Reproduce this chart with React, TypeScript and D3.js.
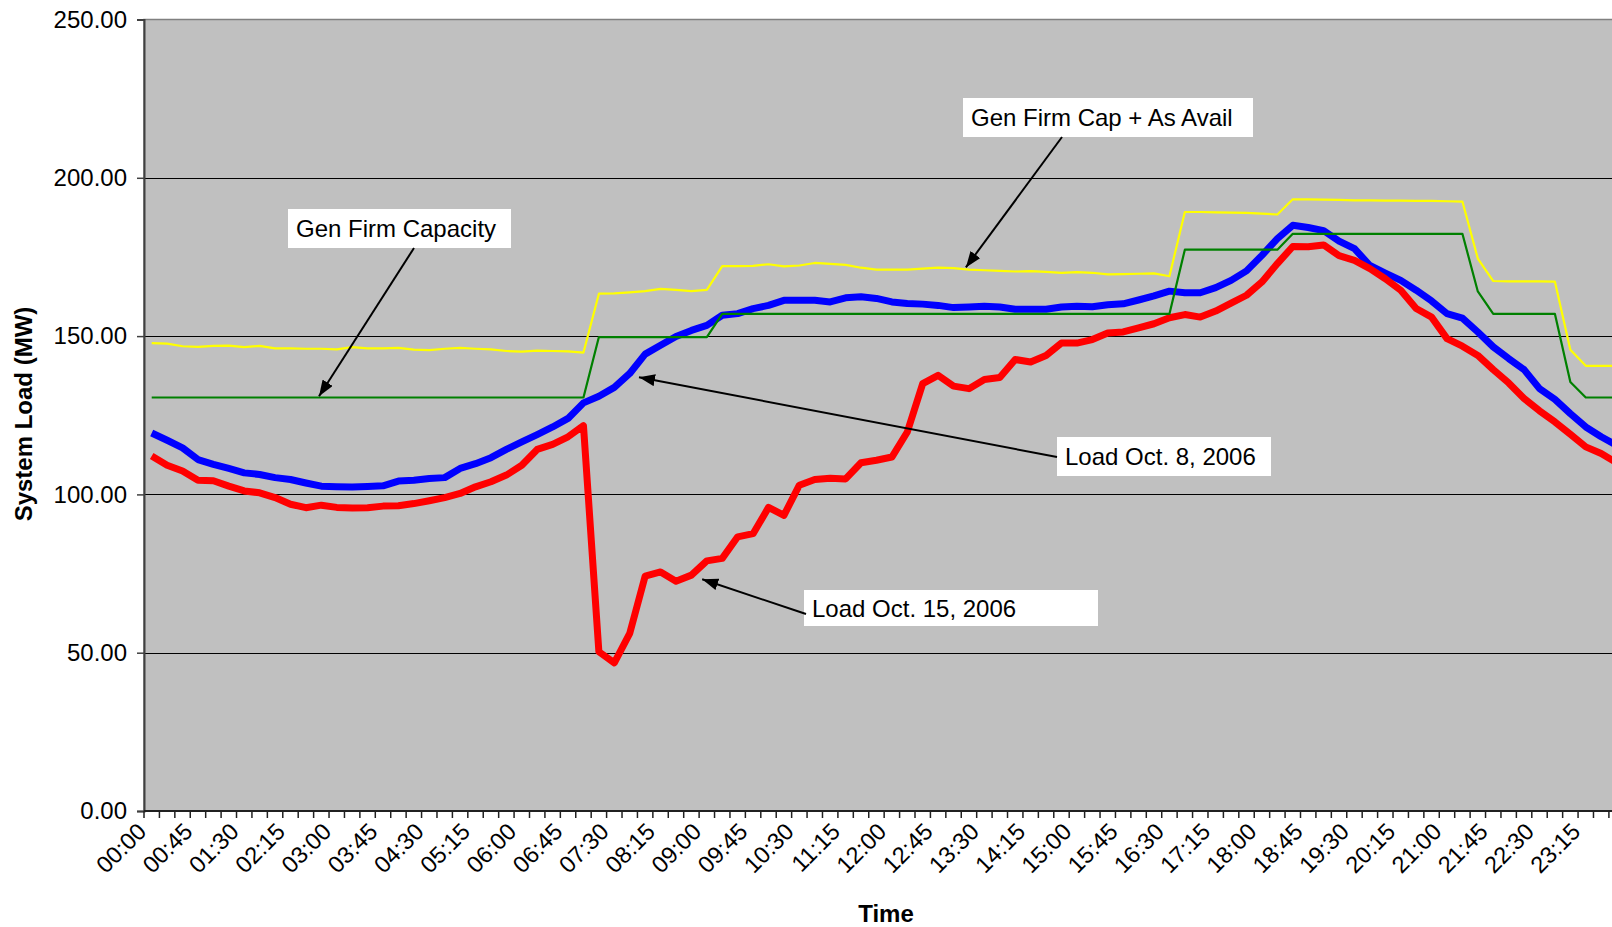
import React, { useRef, useEffect } from "react";
import * as d3 from "d3";

// 15-minute intervals of the day
const times = [
  "00:00", "00:15", "00:30", "00:45", "01:00", "01:15", "01:30", "01:45",
  "02:00", "02:15", "02:30", "02:45", "03:00", "03:15", "03:30", "03:45",
  "04:00", "04:15", "04:30", "04:45", "05:00", "05:15", "05:30", "05:45",
  "06:00", "06:15", "06:30", "06:45", "07:00", "07:15", "07:30", "07:45",
  "08:00", "08:15", "08:30", "08:45", "09:00", "09:15", "09:30", "09:45",
  "10:00", "10:15", "10:30", "10:45", "11:00", "11:15", "11:30", "11:45",
  "12:00", "12:15", "12:30", "12:45", "13:00", "13:15", "13:30", "13:45",
  "14:00", "14:15", "14:30", "14:45", "15:00", "15:15", "15:30", "15:45",
  "16:00", "16:15", "16:30", "16:45", "17:00", "17:15", "17:30", "17:45",
  "18:00", "18:15", "18:30", "18:45", "19:00", "19:15", "19:30", "19:45",
  "20:00", "20:15", "20:30", "20:45", "21:00", "21:15", "21:30", "21:45",
  "22:00", "22:15", "22:30", "22:45", "23:00", "23:15", "23:30", "23:45",
];

const tickLabels = [
  "00:00", "00:45", "01:30", "02:15", "03:00", "03:45", "04:30", "05:15",
  "06:00", "06:45", "07:30", "08:15", "09:00", "09:45", "10:30", "11:15",
  "12:00", "12:45", "13:30", "14:15", "15:00", "15:45", "16:30", "17:15",
  "18:00", "18:45", "19:30", "20:15", "21:00", "21:45", "22:30", "23:15",
];

const yTicks = [0, 50, 100, 150, 200, 250];

const loadOct8 = [
  119.4, 117.1, 114.7, 111.0, 109.5, 108.2, 106.8, 106.3, 105.3, 104.7, 103.6, 102.6,
  102.4, 102.3, 102.5, 102.7, 104.2, 104.5, 105.0, 105.3, 108.2, 109.7, 111.6, 114.2,
  116.6, 118.9, 121.3, 124.0, 128.9, 131.0, 133.8, 138.2, 144.3, 147.1, 149.9, 151.8,
  153.4, 156.6, 157.1, 158.7, 159.7, 161.3, 161.3, 161.3, 160.8, 162.1, 162.4, 161.9,
  160.8, 160.3, 160.1, 159.7, 159.0, 159.2, 159.4, 159.2, 158.5, 158.5, 158.5, 159.2,
  159.4, 159.3, 159.9, 160.2, 161.4, 162.7, 164.2, 163.7, 163.7, 165.3, 167.6, 170.6,
  175.5, 180.8, 185.0, 184.3, 183.3, 180.0, 177.6, 172.3, 169.9, 167.6, 164.5, 161.1,
  157.1, 155.7, 151.3, 146.6, 142.9, 139.4, 133.4, 130.0, 125.5, 121.3, 118.2, 115.5,
];

const loadOct15 = [
  112.1, 109.2, 107.4, 104.5, 104.3, 102.6, 101.1, 100.5, 99.0, 96.9, 95.8, 96.6,
  95.9, 95.7, 95.8, 96.3, 96.4, 97.1, 98.0, 99.0, 100.3, 102.4, 104.0, 106.1,
  109.2, 114.2, 115.8, 118.2, 121.7, 50.3, 46.8, 56.1, 74.2, 75.5, 72.6, 74.5,
  79.0, 79.8, 86.6, 87.6, 95.9, 93.4, 102.9, 104.7, 105.1, 104.9, 110.0, 110.8,
  111.8, 119.7, 135.0, 137.6, 134.2, 133.4, 136.3, 136.9, 142.6, 141.8, 143.9, 147.8,
  147.8, 148.9, 151.0, 151.3, 152.6, 153.9, 155.8, 156.8, 156.0, 157.9, 160.4, 162.9,
  167.1, 172.9, 178.3, 178.2, 178.8, 175.4, 173.9, 171.3, 168.1, 164.5, 158.7, 156.0,
  149.2, 146.8, 143.9, 139.4, 135.2, 130.3, 126.4, 122.9, 119.0, 115.0, 112.9, 110.0,
];

const genFirmCap = [
  130.6, 130.6, 130.6, 130.6, 130.6, 130.6, 130.6, 130.6, 130.6, 130.6, 130.6, 130.6,
  130.6, 130.6, 130.6, 130.6, 130.6, 130.6, 130.6, 130.6, 130.6, 130.6, 130.6, 130.6,
  130.6, 130.6, 130.6, 130.6, 130.6, 149.7, 149.7, 149.7, 149.7, 149.7, 149.7, 149.7,
  149.7, 157.0, 157.0, 157.0, 157.0, 157.0, 157.0, 157.0, 157.0, 157.0, 157.0, 157.0,
  157.0, 157.0, 157.0, 157.0, 157.0, 157.0, 157.0, 157.0, 157.0, 157.0, 157.0, 157.0,
  157.0, 157.0, 157.0, 157.0, 157.0, 157.0, 157.0, 177.3, 177.3, 177.3, 177.3, 177.3,
  177.3, 177.3, 182.3, 182.3, 182.3, 182.3, 182.3, 182.3, 182.3, 182.3, 182.3, 182.3,
  182.3, 182.3, 164.1, 157.0, 157.0, 157.0, 157.0, 157.0, 135.5, 130.6, 130.6, 130.6,
];

const genFirmCapAsAvail = [
  147.8, 147.6, 146.8, 146.6, 146.9, 147.0, 146.5, 146.9, 146.1, 146.1, 146.0, 146.0,
  145.8, 146.5, 146.1, 146.1, 146.3, 145.7, 145.6, 146.0, 146.3, 146.0, 145.8, 145.3,
  145.1, 145.4, 145.3, 145.2, 144.8, 163.4, 163.5, 163.8, 164.2, 164.9, 164.6, 164.2,
  164.6, 172.1, 172.1, 172.2, 172.7, 172.0, 172.3, 173.1, 172.8, 172.5, 171.6, 171.0,
  171.0, 171.0, 171.3, 171.6, 171.5, 171.0, 170.8, 170.6, 170.4, 170.5, 170.3, 170.0,
  170.2, 170.0, 169.5, 169.6, 169.7, 169.8, 168.9, 189.2, 189.2, 189.1, 189.0, 188.9,
  188.7, 188.4, 193.2, 193.2, 193.1, 193.0, 192.9, 192.9, 192.8, 192.8, 192.7, 192.7,
  192.6, 192.5, 174.5, 167.4, 167.3, 167.3, 167.3, 167.2, 145.7, 140.6, 140.6, 140.6,
];

const series = [
  { name: "Load Oct. 8, 2006", values: loadOct8, color: "#0000FF", width: 7 },
  { name: "Load Oct. 15, 2006", values: loadOct15, color: "#FF0000", width: 7 },
  { name: "Gen Firm Capacity", values: genFirmCap, color: "#008000", width: 2.2 },
  { name: "Gen Firm Cap + As Avail", values: genFirmCapAsAvail, color: "#FFFF00", width: 2.2 },
];

// callout boxes (px) with arrow tips in data units (category index, MW)
const callouts = [
  { text: "Gen Firm Capacity", box: [288, 209, 223, 39], from: [414, 248], tip: [10.85, 131.0] },
  { text: "Gen Firm Cap + As Avail", box: [963, 98, 290, 39], from: [1062, 137], tip: [52.8, 171.7] },
  { text: "Load Oct. 8, 2006", box: [1057, 437, 214, 39], from: [1057, 457], tip: [31.6, 137.0] },
  { text: "Load Oct. 15, 2006", box: [804, 590, 294, 36], from: [806, 614], tip: [35.7, 73.2] },
];

const FONT = "'Liberation Sans', Arial, sans-serif";

const App: React.FC = () => {
  const svgRef = useRef<SVGSVGElement | null>(null);
  const width = 1612;
  const height = 927;

  useEffect(() => {
    if (!svgRef.current) return;
    const svg = d3.select(svgRef.current);
    svg.selectAll("*").remove();

    const left = 144;
    const top = 19.5;
    const bottom = 811;
    const band = 15.42;
    const right = left + times.length * band;

    const x = d3
      .scaleBand<string>()
      .domain(times)
      .range([left, right])
      .paddingInner(0)
      .paddingOuter(0);
    const xi = (i: number) => left + (i + 0.5) * x.bandwidth();
    const y = d3.scaleLinear().domain([0, 250]).range([bottom, top]);

    // plot area
    svg
      .append("rect")
      .attr("x", left)
      .attr("y", top)
      .attr("width", right - left)
      .attr("height", bottom - top)
      .attr("fill", "#C0C0C0")
      .attr("stroke", "#808080")
      .attr("stroke-width", 1.5);

    // gridlines
    svg
      .append("g")
      .selectAll("line")
      .data(yTicks.filter((d) => d > 0 && d < 250))
      .enter()
      .append("line")
      .attr("x1", left)
      .attr("x2", right)
      .attr("y1", (d) => Math.round(y(d)) + 0.5)
      .attr("y2", (d) => Math.round(y(d)) + 0.5)
      .attr("stroke", "#000")
      .attr("stroke-width", 1);

    // y axis
    const yAxis = svg
      .append("g")
      .attr("transform", `translate(${left},0)`)
      .call(
        d3
          .axisLeft(y)
          .tickValues(yTicks)
          .tickFormat(d3.format(".2f"))
          .tickSize(7)
          .tickPadding(10)
      );
    yAxis.select(".domain").attr("stroke", "#404040").attr("stroke-width", 2);
    yAxis.selectAll(".tick line").attr("stroke", "#404040").attr("stroke-width", 1.5);
    yAxis
      .selectAll(".tick text")
      .attr("font-family", FONT)
      .attr("font-size", 24)
      .attr("fill", "#000");

    // x axis line and boundary ticks
    svg
      .append("line")
      .attr("x1", left)
      .attr("x2", right)
      .attr("y1", bottom)
      .attr("y2", bottom)
      .attr("stroke", "#202020")
      .attr("stroke-width", 2);
    svg
      .append("g")
      .selectAll("line")
      .data(d3.range(times.length + 1))
      .enter()
      .append("line")
      .attr("x1", (i) => left + i * x.bandwidth())
      .attr("x2", (i) => left + i * x.bandwidth())
      .attr("y1", bottom)
      .attr("y2", bottom + 7)
      .attr("stroke", "#202020")
      .attr("stroke-width", 1.5);

    // x tick labels
    svg
      .append("g")
      .selectAll("text")
      .data(tickLabels)
      .enter()
      .append("text")
      .attr("transform", (d) => {
        const px = (x(d) as number) + x.bandwidth() / 2 - 4;
        return `translate(${px},${bottom + 22}) rotate(-45)`;
      })
      .attr("text-anchor", "end")
      .attr("font-family", FONT)
      .attr("font-size", 23.5)
      .attr("fill", "#000")
      .text((d) => d);

    // axis titles
    svg
      .append("text")
      .attr("transform", `translate(23,414) rotate(-90)`)
      .attr("text-anchor", "middle")
      .attr("dominant-baseline", "central")
      .attr("font-family", FONT)
      .attr("font-size", 24)
      .attr("font-weight", "bold")
      .text("System Load (MW)");

    svg
      .append("text")
      .attr("x", 886)
      .attr("y", 922)
      .attr("text-anchor", "middle")
      .attr("font-family", FONT)
      .attr("font-size", 24)
      .attr("font-weight", "bold")
      .text("Time");

    // series
    const line = d3
      .line<number>()
      .x((d, i) => xi(i))
      .y((d) => y(d));

    svg
      .append("g")
      .selectAll("path")
      .data(series)
      .enter()
      .append("path")
      .attr("d", (s) => line(s.values))
      .attr("fill", "none")
      .attr("stroke", (s) => s.color)
      .attr("stroke-width", (s) => s.width)
      .attr("stroke-linejoin", "round");

    // callouts
    const defs = svg.append("defs");
    defs
      .append("marker")
      .attr("id", "arrowhead")
      .attr("markerUnits", "userSpaceOnUse")
      .attr("viewBox", "0 0 16 12")
      .attr("refX", 16)
      .attr("refY", 6)
      .attr("markerWidth", 16)
      .attr("markerHeight", 12)
      .attr("orient", "auto")
      .append("path")
      .attr("d", "M0,0 L16,6 L0,12 Z")
      .attr("fill", "#000");

    const cg = svg.append("g");
    callouts.forEach((c) => {
      const [bx, by, bw, bh] = c.box;
      cg.append("rect")
        .attr("x", bx)
        .attr("y", by)
        .attr("width", bw)
        .attr("height", bh)
        .attr("fill", "#fff");
      cg.append("text")
        .attr("x", bx + 8)
        .attr("y", by + bh / 2)
        .attr("dominant-baseline", "central")
        .attr("font-family", FONT)
        .attr("font-size", 24)
        .attr("fill", "#000")
        .text(c.text);
      cg.append("line")
        .attr("x1", c.from[0])
        .attr("y1", c.from[1])
        .attr("x2", xi(c.tip[0]))
        .attr("y2", y(c.tip[1]))
        .attr("stroke", "#000")
        .attr("stroke-width", 2)
        .attr("marker-end", "url(#arrowhead)");
    });
  }, []);

  return (
    <div>
      <style>{"body{margin:0;overflow:hidden;background:#fff}"}</style>
      <svg ref={svgRef} width={width} height={height} style={{ display: "block" }} />
    </div>
  );
};

export default App;
